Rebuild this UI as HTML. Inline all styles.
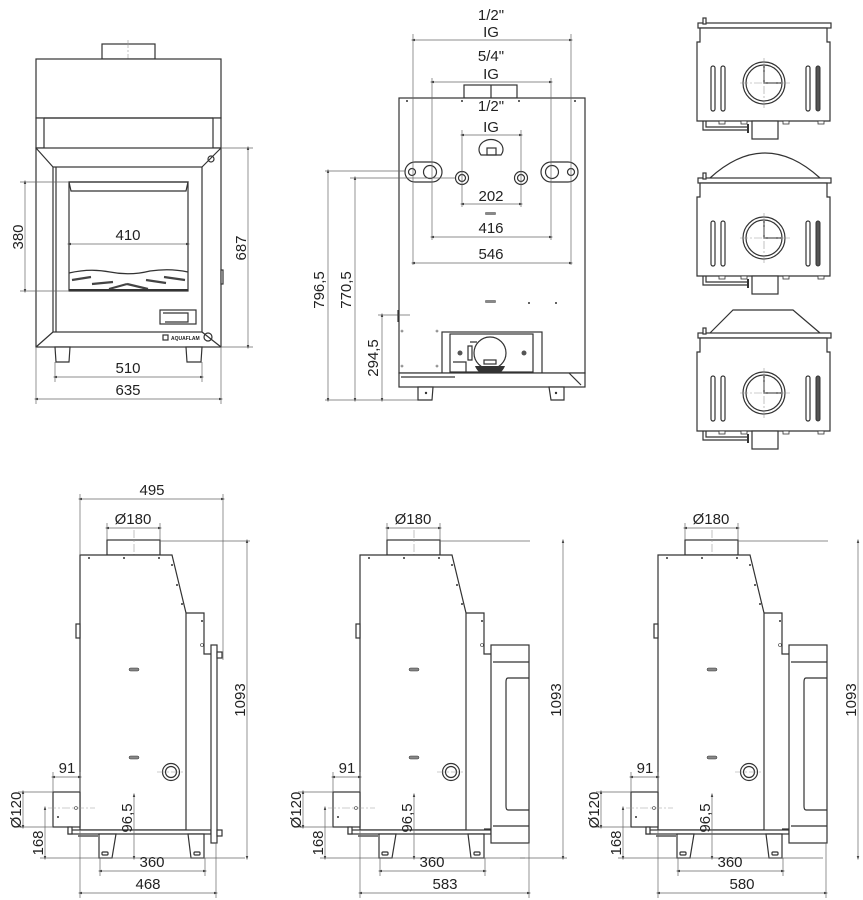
<!DOCTYPE html>
<html><head><meta charset="utf-8"><style>
html,body{margin:0;padding:0;background:#fff}
svg{display:block}
text{font-family:"Liberation Sans","DejaVu Sans",sans-serif;font-size:15px;fill:#222}
.s{fill:none;stroke:#333;stroke-width:1.2}
.w{fill:#fff;stroke:#333;stroke-width:1.2}
.d{fill:none;stroke:#666;stroke-width:0.7}
.c{fill:none;stroke:#999;stroke-width:0.6;stroke-dasharray:8 2 2 2}
.a{fill:none;stroke:#666;stroke-width:0.7;marker-start:url(#m);marker-end:url(#m)}
</style></head><body>
<svg width="863" height="900" viewBox="0 0 863 900" xmlns="http://www.w3.org/2000/svg">
<defs>
<marker id="m" viewBox="0 0 10 10" refX="5" refY="5" markerWidth="6" markerHeight="6" orient="auto-start-reverse"><path d="M10,5 L0,2 L0,8 Z" fill="#444"/></marker>
<g id="side">
  <!-- chimney -->
  <rect class="w" x="107" y="540" width="53" height="15"/>
  <line class="c" x1="134" y1="530" x2="134" y2="580"/>
  <!-- body -->
  <path class="w" d="M80,555 L172,555 L186,613 L186,830 L80,830 Z"/>
  <path class="s" d="M186,613 L204,613 L204,654 L211,654"/>
  <circle cx="89" cy="558" r="1" fill="#333"/><circle cx="124" cy="558" r="1" fill="#333"/><circle cx="159" cy="558" r="1" fill="#333"/>
  <circle cx="172" cy="565" r="1" fill="#333"/><circle cx="177" cy="585" r="1" fill="#333"/><circle cx="182" cy="604" r="1" fill="#333"/>
  <circle cx="202" cy="621" r="1" fill="#333"/><circle cx="202" cy="645" r="1.5" fill="none" stroke="#333" stroke-width=".6"/>
  <rect class="w" x="76" y="624" width="4" height="14"/>
  <rect x="129" y="668" width="10" height="3" rx="1.5" fill="#888" stroke="#333" stroke-width=".5"/>
  <rect x="129" y="756" width="10" height="3" rx="1.5" fill="#888" stroke="#333" stroke-width=".5"/>
  <circle class="s" cx="171" cy="772" r="8.5"/><circle class="s" cx="171" cy="772" r="5.5"/>
  <line class="c" x1="157" y1="772" x2="185" y2="772"/>
  <!-- flue Ø120 -->
  <rect class="w" x="53" y="792" width="27" height="35"/>
  <circle cx="58" cy="817" r="1" fill="#333"/><circle cx="76" cy="808" r="1.5" fill="none" stroke="#333" stroke-width=".6"/>
  <line class="c" x1="48" y1="808" x2="95" y2="808"/>
  <!-- base -->
  <rect class="w" x="68" y="830" width="143" height="4"/>
  <rect class="w" x="68" y="827" width="4" height="7"/>
  <line class="s" x1="78" y1="836" x2="98" y2="836"/>
  <path class="w" d="M99,834 L116,834 L112,858 L99,858 Z"/>
  <rect class="s" x="102" y="852" width="6" height="3" rx="1"/>
  <path class="w" d="M188,834 L204,834 L204,858 L191,858 Z"/>
  <rect class="s" x="194" y="852" width="6" height="3" rx="1"/>
</g>
<g id="door2">
  <rect class="w" x="211" y="645" width="38" height="198"/>
  <line class="s" x1="213" y1="662" x2="249" y2="662"/>
  <line class="s" x1="213" y1="826" x2="249" y2="826"/>
  <path class="s" d="M249,678 L228,678 Q226,678 226,682 L226,806 Q226,810 228,810 L249,810"/>
  <line class="s" x1="204" y1="829" x2="211" y2="829"/>
</g>
</defs>

<!-- ============ FRONT VIEW (top left) ============ -->
<rect class="w" x="102" y="44" width="53" height="15"/>
<line class="c" x1="128" y1="40" x2="128" y2="75"/>
<rect class="w" x="36" y="59" width="185" height="59"/>
<rect class="w" x="36" y="118" width="8" height="30"/><rect class="w" x="213" y="118" width="8" height="30"/>
<line class="s" x1="44" y1="118" x2="213" y2="118"/>
<rect class="w" x="36" y="148" width="185" height="199"/>
<rect class="s" x="53" y="167" width="149" height="165"/>
<path class="s" d="M36,148 L53,167 M221,148 L202,167 M36,347 L53,332 M221,347 L202,332"/>
<line class="s" x1="56" y1="167" x2="56" y2="332"/>
<rect class="s" x="69" y="182" width="119" height="109"/>
<path class="s" d="M69,182 L188,182 L186,191 L71,191 Z"/>
<path class="s" d="M69,273 Q90,268 110,272 Q130,276 150,271 Q170,268 188,272"/>
<g stroke="#444" stroke-width="2.2">
<line x1="72" y1="280" x2="91" y2="277"/><line x1="92" y1="284" x2="113" y2="282"/><line x1="109" y1="289" x2="127" y2="284"/><line x1="127" y1="284" x2="148" y2="289"/><line x1="146" y1="280" x2="166" y2="283"/><line x1="164" y1="277" x2="185" y2="280"/>
</g>
<line x1="69" y1="290" x2="188" y2="290" stroke="#333" stroke-width="2"/>
<rect class="s" x="160" y="310" width="36" height="14"/>
<path class="s" d="M163,313 L188,313 L188,322 L165,322"/>
<circle class="s" cx="211" cy="159" r="3"/>
<circle class="s" cx="208" cy="337" r="4"/>
<rect class="s" x="163" y="335" width="5" height="5"/>
<text x="171" y="340" style="font-size:5px;font-weight:bold">AQUAFLAM</text>
<rect class="w" x="221" y="270" width="2" height="14"/>
<path class="w" d="M55,347 L70,347 L69,362 L56,362 Z"/><path class="w" d="M186,347 L202,347 L201,362 L187,362 Z"/>
<!-- dims -->
<line class="d" x1="20" y1="182" x2="69" y2="182"/><line class="d" x1="20" y1="291" x2="69" y2="291"/>
<line class="a" x1="25" y1="182" x2="25" y2="291"/>
<text transform="translate(23,237) rotate(-90)" text-anchor="middle">380</text>
<line class="a" x1="69" y1="244" x2="188" y2="244"/><text x="128" y="240" text-anchor="middle">410</text>
<line class="d" x1="221" y1="148" x2="253" y2="148"/><line class="d" x1="221" y1="347" x2="253" y2="347"/>
<line class="a" x1="248" y1="148" x2="248" y2="347"/>
<text transform="translate(246,248) rotate(-90)" text-anchor="middle">687</text>
<line class="d" x1="55" y1="362" x2="55" y2="382"/><line class="d" x1="202" y1="362" x2="202" y2="382"/>
<line class="a" x1="55" y1="377" x2="202" y2="377"/><text x="128" y="373" text-anchor="middle">510</text>
<line class="d" x1="36" y1="347" x2="36" y2="404"/><line class="d" x1="221" y1="347" x2="221" y2="404"/>
<line class="a" x1="36" y1="399" x2="221" y2="399"/><text x="128" y="395" text-anchor="middle">635</text>

<!-- ============ BACK VIEW (top middle) ============ -->
<rect class="w" x="464" y="85" width="53" height="13"/><line class="s" x1="491" y1="85" x2="491" y2="98"/>
<rect class="w" x="399" y="98" width="186" height="275"/>
<g fill="#333"><circle cx="407" cy="101" r="1"/><circle cx="462" cy="101" r="1"/><circle cx="519" cy="101" r="1"/><circle cx="575" cy="101" r="1"/><circle cx="529" cy="303" r="1"/><circle cx="556" cy="303" r="1"/></g>
<rect x="485" y="300" width="11" height="3" rx="1" fill="#888"/>
<rect x="485" y="212" width="11" height="3" rx="1" fill="#888"/>
<path class="s" d="M481,155 A12,10 0 1 1 501,155 Z"/><rect class="s" x="487" y="148" width="9" height="7"/>
<rect class="s" x="405" y="162" width="37" height="20" rx="10"/>
<circle class="s" cx="412" cy="172" r="3.5"/><circle class="s" cx="430" cy="172" r="6.5" stroke-width="2"/>
<rect class="s" x="541" y="162" width="37" height="20" rx="10"/>
<circle class="s" cx="571" cy="172" r="3.5"/><circle class="s" cx="552" cy="172" r="6.5" stroke-width="2"/>
<circle class="s" cx="462" cy="178" r="6.5"/><circle class="s" cx="462" cy="178" r="3.5" stroke-width="1.6"/>
<circle class="s" cx="521" cy="178" r="6.5"/><circle class="s" cx="521" cy="178" r="3.5" stroke-width="1.6"/>
<!-- back dims -->
<g class="d">
<line x1="413" y1="34" x2="413" y2="265"/><line x1="571" y1="34" x2="571" y2="265"/>
<line x1="432" y1="78" x2="432" y2="240"/><line x1="551" y1="78" x2="551" y2="240"/>
<line x1="462" y1="130" x2="462" y2="207"/><line x1="521" y1="130" x2="521" y2="207"/>
<line x1="325" y1="171" x2="405" y2="171"/><line x1="350" y1="178" x2="455" y2="178"/><line x1="378" y1="315" x2="410" y2="315"/>
<line x1="325" y1="400" x2="430" y2="400"/>
</g>
<line class="a" x1="413" y1="40" x2="571" y2="40"/><text x="491" y="20" text-anchor="middle">1/2"</text><text x="491" y="37" text-anchor="middle">IG</text>
<line class="a" x1="432" y1="82" x2="551" y2="82"/><text x="491" y="61" text-anchor="middle">5/4"</text><text x="491" y="79" text-anchor="middle">IG</text>
<line class="a" x1="462" y1="135" x2="521" y2="135"/><text x="491" y="111" text-anchor="middle">1/2"</text><text x="491" y="132" text-anchor="middle">IG</text>
<line class="a" x1="462" y1="204" x2="521" y2="204"/><text x="491" y="201" text-anchor="middle">202</text>
<line class="a" x1="432" y1="237" x2="551" y2="237"/><text x="491" y="233" text-anchor="middle">416</text>
<line class="a" x1="413" y1="263" x2="571" y2="263"/><text x="491" y="259" text-anchor="middle">546</text>
<line class="a" x1="328" y1="171" x2="328" y2="400"/><text transform="translate(324,290) rotate(-90)" text-anchor="middle">796,5</text>
<line class="a" x1="355" y1="178" x2="355" y2="400"/><text transform="translate(351,290) rotate(-90)" text-anchor="middle">770,5</text>
<line class="a" x1="382" y1="315" x2="382" y2="400"/><text transform="translate(378,358) rotate(-90)" text-anchor="middle">294,5</text>
<line class="s" x1="398" y1="310" x2="398" y2="322"/>
<!-- ash window -->
<rect class="w" x="442" y="332" width="100" height="41"/>
<rect class="s" x="450" y="334" width="83" height="38" stroke-width="1.6"/>
<circle class="w" cx="490" cy="353" r="16"/>
<rect class="s" x="484" y="360" width="12" height="4"/>
<path d="M475,366 A16,16 0 0 0 505,366 Z" fill="#333"/>
<circle cx="460" cy="353" r="2.5" fill="#555"/><circle cx="524" cy="353" r="2.5" fill="#555"/>
<path class="s" d="M470,342 L477,342 M468,346 L472,346 L472,360 L468,360 Z M453,362 L466,362 L466,373"/>
<g fill="none" stroke="#555" stroke-width=".6"><circle cx="402" cy="331" r="1"/><circle cx="402" cy="366" r="1"/><circle cx="437" cy="331" r="1"/><circle cx="437" cy="366" r="1"/></g>
<!-- base -->
<rect class="w" x="399" y="373" width="186" height="14"/>
<line class="s" x1="401" y1="377" x2="455" y2="377"/>
<path class="s" d="M569,373 L581,385"/>
<path class="w" d="M418,387 L433,387 L432,400 L418,400 Z"/><path class="w" d="M549,387 L564,387 L564,400 L551,400 Z"/>
<circle cx="426" cy="393" r="1.2" fill="#333"/><circle cx="556" cy="393" r="1.2" fill="#333"/>

<!-- ============ TOP VIEWS (right) ============ -->
<g id="tv">
  <rect class="w" x="698" y="23" width="133" height="5"/>
  <rect class="w" x="703" y="18" width="3" height="6"/>
  <path class="w" d="M700,28 L827,28 L827,42 L830,42 L830,121 L697,121 L697,42 L700,42 Z"/>
  <rect class="s" x="711" y="66" width="4" height="45" rx="2"/><rect class="s" x="721" y="66" width="4" height="45" rx="2"/>
  <rect class="s" x="806" y="66" width="4" height="45" rx="2"/><rect x="816" y="66" width="4" height="45" rx="2" fill="#555" stroke="#333"/>
  <circle class="s" cx="764" cy="83" r="21"/><circle class="s" cx="764" cy="83" r="18" stroke-width="1.6"/>
  <path class="s" d="M764,66 L764,83 L781,83"/>
  <line class="c" x1="740" y1="83" x2="790" y2="83"/><line class="c" x1="764" y1="58" x2="764" y2="108"/>
  <rect class="w" x="752" y="121" width="26" height="18"/>
  <path class="s" d="M703,121 L703,130 L748,130 M706,121 L706,127 L748,127"/>
  <g fill="#fff" stroke="#333" stroke-width=".8"><rect x="719" y="121" width="6" height="3"/><rect x="741" y="121" width="6" height="3"/><rect x="783" y="121" width="6" height="3"/><rect x="818" y="121" width="6" height="3"/></g>
  <line x1="748" y1="124" x2="748" y2="133" stroke="#333" stroke-width="2"/>
</g>
<use href="#tv" y="155"/>
<path class="s" d="M710,178 Q765,128 820,178"/>
<use href="#tv" y="310"/>
<path class="s" d="M710,333 L733,310 L793,310 L820,333"/>

<!-- ============ SIDE VIEWS (bottom) ============ -->
<use href="#side"/>
<rect class="w" x="211" y="645" width="6" height="198"/>
<rect class="w" x="217" y="652" width="5" height="6"/><rect class="w" x="217" y="830" width="5" height="6"/>
<use href="#side" x="280"/><use href="#door2" x="280"/>
<use href="#side" x="578"/><use href="#door2" x="578"/>

<!-- dims for side views -->
<g id="sd">
<line class="d" x1="107" y1="523" x2="107" y2="540"/><line class="d" x1="160" y1="523" x2="160" y2="540"/>
<line class="a" x1="107" y1="528" x2="160" y2="528"/><text x="133" y="524" text-anchor="middle">Ø180</text>
<line class="d" x1="53" y1="772" x2="53" y2="792"/><line class="d" x1="80" y1="772" x2="80" y2="792"/>
<line class="a" x1="53" y1="777" x2="80" y2="777"/><text x="67" y="773" text-anchor="middle">91</text>
<line class="d" x1="18" y1="792" x2="53" y2="792"/><line class="d" x1="18" y1="827" x2="53" y2="827"/>
<line class="a" x1="23" y1="792" x2="23" y2="827"/><text transform="translate(21,810) rotate(-90)" text-anchor="middle">Ø120</text>
<line class="a" x1="45" y1="808" x2="45" y2="858"/><text transform="translate(43,843) rotate(-90)" text-anchor="middle">168</text>
<line class="a" x1="134" y1="795" x2="134" y2="858"/><text transform="translate(132,818) rotate(-90)" text-anchor="middle">96,5</text>
<line class="d" x1="40" y1="858" x2="245" y2="858"/>
<line class="d" x1="100" y1="858" x2="100" y2="876"/><line class="d" x1="205" y1="858" x2="205" y2="876"/>
<line class="a" x1="100" y1="871" x2="205" y2="871"/><text x="152" y="867" text-anchor="middle">360</text>
<line class="d" x1="80" y1="830" x2="80" y2="898"/>
<line class="d" x1="160" y1="541" x2="250" y2="541"/>
</g>
<use href="#sd" x="280"/><use href="#sd" x="578"/>
<!-- view 1 specifics -->
<line class="d" x1="80" y1="494" x2="80" y2="555"/><line class="d" x1="223" y1="494" x2="223" y2="660"/>
<line class="a" x1="80" y1="499" x2="223" y2="499"/><text x="152" y="495" text-anchor="middle">495</text>
<line class="a" x1="247" y1="541" x2="247" y2="858"/><text transform="translate(245,700) rotate(-90)" text-anchor="middle">1093</text>
<line class="d" x1="216" y1="843" x2="216" y2="898"/>
<line class="a" x1="80" y1="893" x2="216" y2="893"/><text x="148" y="889" text-anchor="middle">468</text>
<!-- view 2 -->
<line class="d" x1="520" y1="858" x2="567" y2="858"/>
<line class="a" x1="563" y1="541" x2="563" y2="858"/><text transform="translate(561,700) rotate(-90)" text-anchor="middle">1093</text>
<line class="d" x1="529" y1="843" x2="529" y2="898"/>
<line class="a" x1="360" y1="893" x2="529" y2="893"/><text x="445" y="889" text-anchor="middle">583</text>
<!-- view 3 -->
<line class="a" x1="858" y1="541" x2="858" y2="858"/><text transform="translate(856,700) rotate(-90)" text-anchor="middle">1093</text>
<line class="d" x1="826" y1="843" x2="826" y2="898"/>
<line class="a" x1="658" y1="893" x2="826" y2="893"/><text x="742" y="889" text-anchor="middle">580</text>
</svg>
</body></html>
